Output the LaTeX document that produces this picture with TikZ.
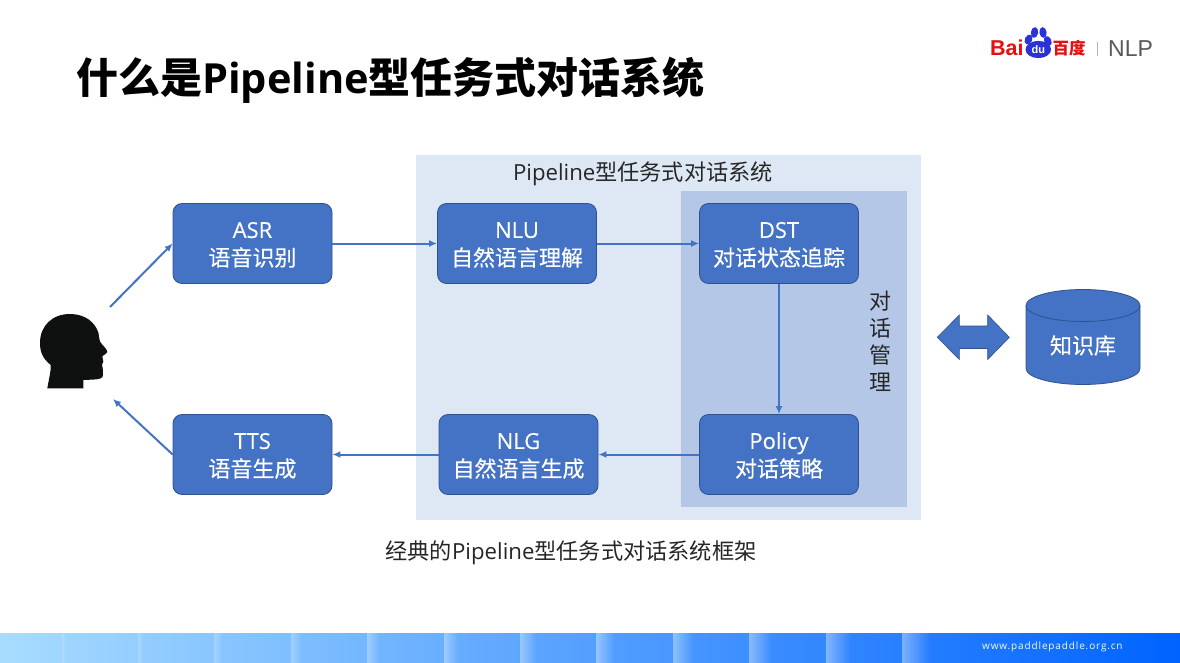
\documentclass[tikz,border=0pt]{standalone}
\usepackage{fontspec}
\setmainfont{Noto Sans CJK SC}
\newfontfamily\latinface{Open Sans}
\newfontfamily\logoface{Liberation Sans}
\newfontfamily\stageface[FakeBold=0.3]{Noto Sans CJK SC}
\newfontfamily\stagelatin[FakeBold=0.3]{Open Sans}
\usetikzlibrary{arrows.meta}
\definecolor{panelblue}{HTML}{DEE8F5}
\definecolor{innerblue}{HTML}{B4C7E7}
\definecolor{boxblue}{HTML}{4472C4}
\definecolor{edgeblue}{HTML}{2F528F}
\definecolor{barleft}{HTML}{A8DCFF}
\definecolor{barright}{HTML}{0063FF}
\definecolor{baidured}{HTML}{E60F0F}
\definecolor{baidublue}{HTML}{2A32D8}
\definecolor{headblack}{HTML}{0F1110}
\tikzset{
  stage/.style={draw=edgeblue, line width=0.8pt, fill=boxblue, rounded corners=9pt,
    minimum width=159pt, minimum height=80pt, inner sep=0pt, text=white,
    font=\stageface\fontsize{22}{28}\selectfont},
  flow/.style={draw=boxblue, line width=2pt, -{Latex[length=8pt,width=7pt]}},
  plain/.style={inner sep=0pt, text=black, font=\fontsize{22.2}{28}\selectfont},
  toe/.style={fill=baidublue},
}
% two centred lines, set slightly below the middle of a box
\newcommand{\stagelines}[2]{\raisebox{-8pt}[0pt][0pt]{\begin{tabular}{@{}c@{}}{\stagelatin #1}\\#2\end{tabular}}}
\begin{document}
\begin{tikzpicture}[x=1pt,y=-1pt]
\useasboundingbox (0,0) rectangle (1180,663);
\fill[white] (0,0) rectangle (1180,663);

% title
\node[anchor=west, inner sep=0pt, font=\fontsize{42}{50}\selectfont\bfseries] (title) at (76,80)
  {什么是{\latinface\fontsize{41.5}{50}\selectfont Pipeline}型任务式对话系统};

% logo
\node[anchor=base west, inner sep=0pt, text=baidured, font=\logoface\bfseries\fontsize{21.5}{24}\selectfont] (bai) at (990,56) {Bai};
\fill[toe, rotate around={-25:(1028.5,39.5)}] (1028.5,39.5) ellipse (3.6pt and 5.2pt);
\fill[toe, rotate around={-8:(1034.5,32.5)}] (1034.5,32.5) ellipse (3.6pt and 5.4pt);
\fill[toe, rotate around={8:(1043,32.5)}] (1043,32.5) ellipse (3.6pt and 5.4pt);
\fill[toe, rotate around={25:(1047.8,41)}] (1047.8,41) ellipse (3.6pt and 5.2pt);
\fill[toe] (1038.3,49.5) ellipse (12.8pt and 8.6pt);
\node[inner sep=0pt, text=white, font=\logoface\bfseries\fontsize{11}{12}\selectfont] (du) at (1038.3,50) {du};
\node[anchor=base west, inner sep=0pt, text=baidured, font=\bfseries\fontsize{16.5}{20}\selectfont] (baidu) at (1052.5,55) {百度};
\draw[line width=1.4pt, draw=black!30] (1097.3,42) -- (1097.3,56);
\node[anchor=base west, inner sep=0pt, text=black!65, font=\logoface\fontsize{23}{24}\selectfont] (nlp) at (1108,56.5) {NLP};

% system panels
\fill[panelblue] (416,155) rectangle (921,520);
\fill[innerblue] (681,191) rectangle (907,507);
\node[plain, text=black!85] (systitle) at (643,174) {{\latinface Pipeline}型任务式对话系统};
\node[plain, text=black!85, font=\fontsize{22}{27}\selectfont, align=center] (dm) at (880,341.5) {对\\话\\管\\理};

% pipeline stages
\node[stage] (asr) at (252.5,243.5) {\stagelines{ASR}{语音识别}};
\node[stage] (nlu) at (517,243.5) {\stagelines{NLU}{自然语言理解}};
\node[stage] (dst) at (779,243.5) {\stagelines{DST}{对话状态追踪}};
\node[stage] (tts) at (252.5,454.5) {\stagelines{TTS}{语音生成}};
\node[stage] (nlg) at (518.5,454.5) {\stagelines{NLG}{自然语言生成}};
\node[stage] (policy) at (779,454.5) {\stagelines{Policy}{对话策略}};

% speaker silhouette
\fill[headblack] (47.3,388.3) .. controls (49,378) and (51,372) .. (50.7,365)
  .. controls (42,358) and (40,351) .. (40,343)
  .. controls (40,326) and (52,314) .. (70,314)
  .. controls (85,314) and (95,322) .. (98.5,333)
  .. controls (99,336) and (99,339) .. (100,341.5)
  .. controls (102,345) and (107,349) .. (107.3,351.7)
  .. controls (107,354) and (103,355) .. (102.3,356.5)
  -- (103.3,361.5) -- (102,365) -- (102.7,368)
  .. controls (103,372) and (103,376) .. (102.5,377)
  .. controls (101,379.5) and (95,379.5) .. (83.5,380)
  -- (83.3,388.3) -- cycle;
\coordinate (earout) at (110,307);
\coordinate (earin) at (113,399);

% connectors
\draw[flow] (earout) -- (asr.west);
\draw[flow] (asr.east) -- (nlu.west);
\draw[flow] (nlu.east) -- (dst.west);
\draw[flow] (dst.south) -- (policy.north);
\draw[flow] (policy.west) -- (nlg.east);
\draw[flow] (nlg.west) -- (tts.east);
\draw[flow] (tts.west) -- (earin);

% two-way link to the knowledge base
\filldraw[fill=boxblue, draw=edgeblue, line width=0.6pt]
  (937.3,337.3) -- (959.3,315) -- (959.3,326) -- (987.7,326) -- (987.7,315)
  -- (1009.3,337.3) -- (987.7,359.5) -- (987.7,348.5) -- (959.3,348.5) -- (959.3,359.5) -- cycle;

% knowledge base
\filldraw[fill=boxblue, draw=edgeblue, line width=0.8pt]
  (1026,305.5) -- (1026,368.5) arc[start angle=180, end angle=360, x radius=57pt, y radius=16pt]
  -- (1140,305.5) arc[start angle=0, end angle=180, x radius=57pt, y radius=16pt] -- cycle;
\draw[edgeblue, line width=0.8pt] (1026,305.5) arc[start angle=180, end angle=360, x radius=57pt, y radius=16pt];
\node[inner sep=0pt, text=white, font=\stageface\fontsize{22}{28}\selectfont] (kb) at (1083,345.5) {知识库};

% caption
\node[plain, text=black!85] (caption) at (571,553) {经典的{\latinface Pipeline}型任务式对话系统框架};

% footer band
\shade[left color=barleft, right color=barright] (0,633) rectangle (1180,663);
\foreach \xa/\w/\p/\m in {62/4/94.4/85, 138/5/87.9/80, 214/8/81.2/76, 291/10/74.5/72, 367/12/67.9/68, 444/14/61.2/64, 520/16/54.6/62, 596/18/48/60, 673/20/41.3/60, 749/22/34.7/60, 826/24/28/60, 902/28/21.2/60}{
  \colorlet{stripbase}{barleft!\p!barright}
  \shade[left color=stripbase!\m!white, right color=stripbase] (\xa,633) rectangle (\xa+\w,663);
}
\node[inner sep=0pt, text=white!82!barleft, font=\latinface\fontsize{10}{12}\selectfont, anchor=west] (site) at (982,647)
  {\addfontfeatures{LetterSpace=8.6}www.paddlepaddle.org.cn};
\end{tikzpicture}
\end{document}
